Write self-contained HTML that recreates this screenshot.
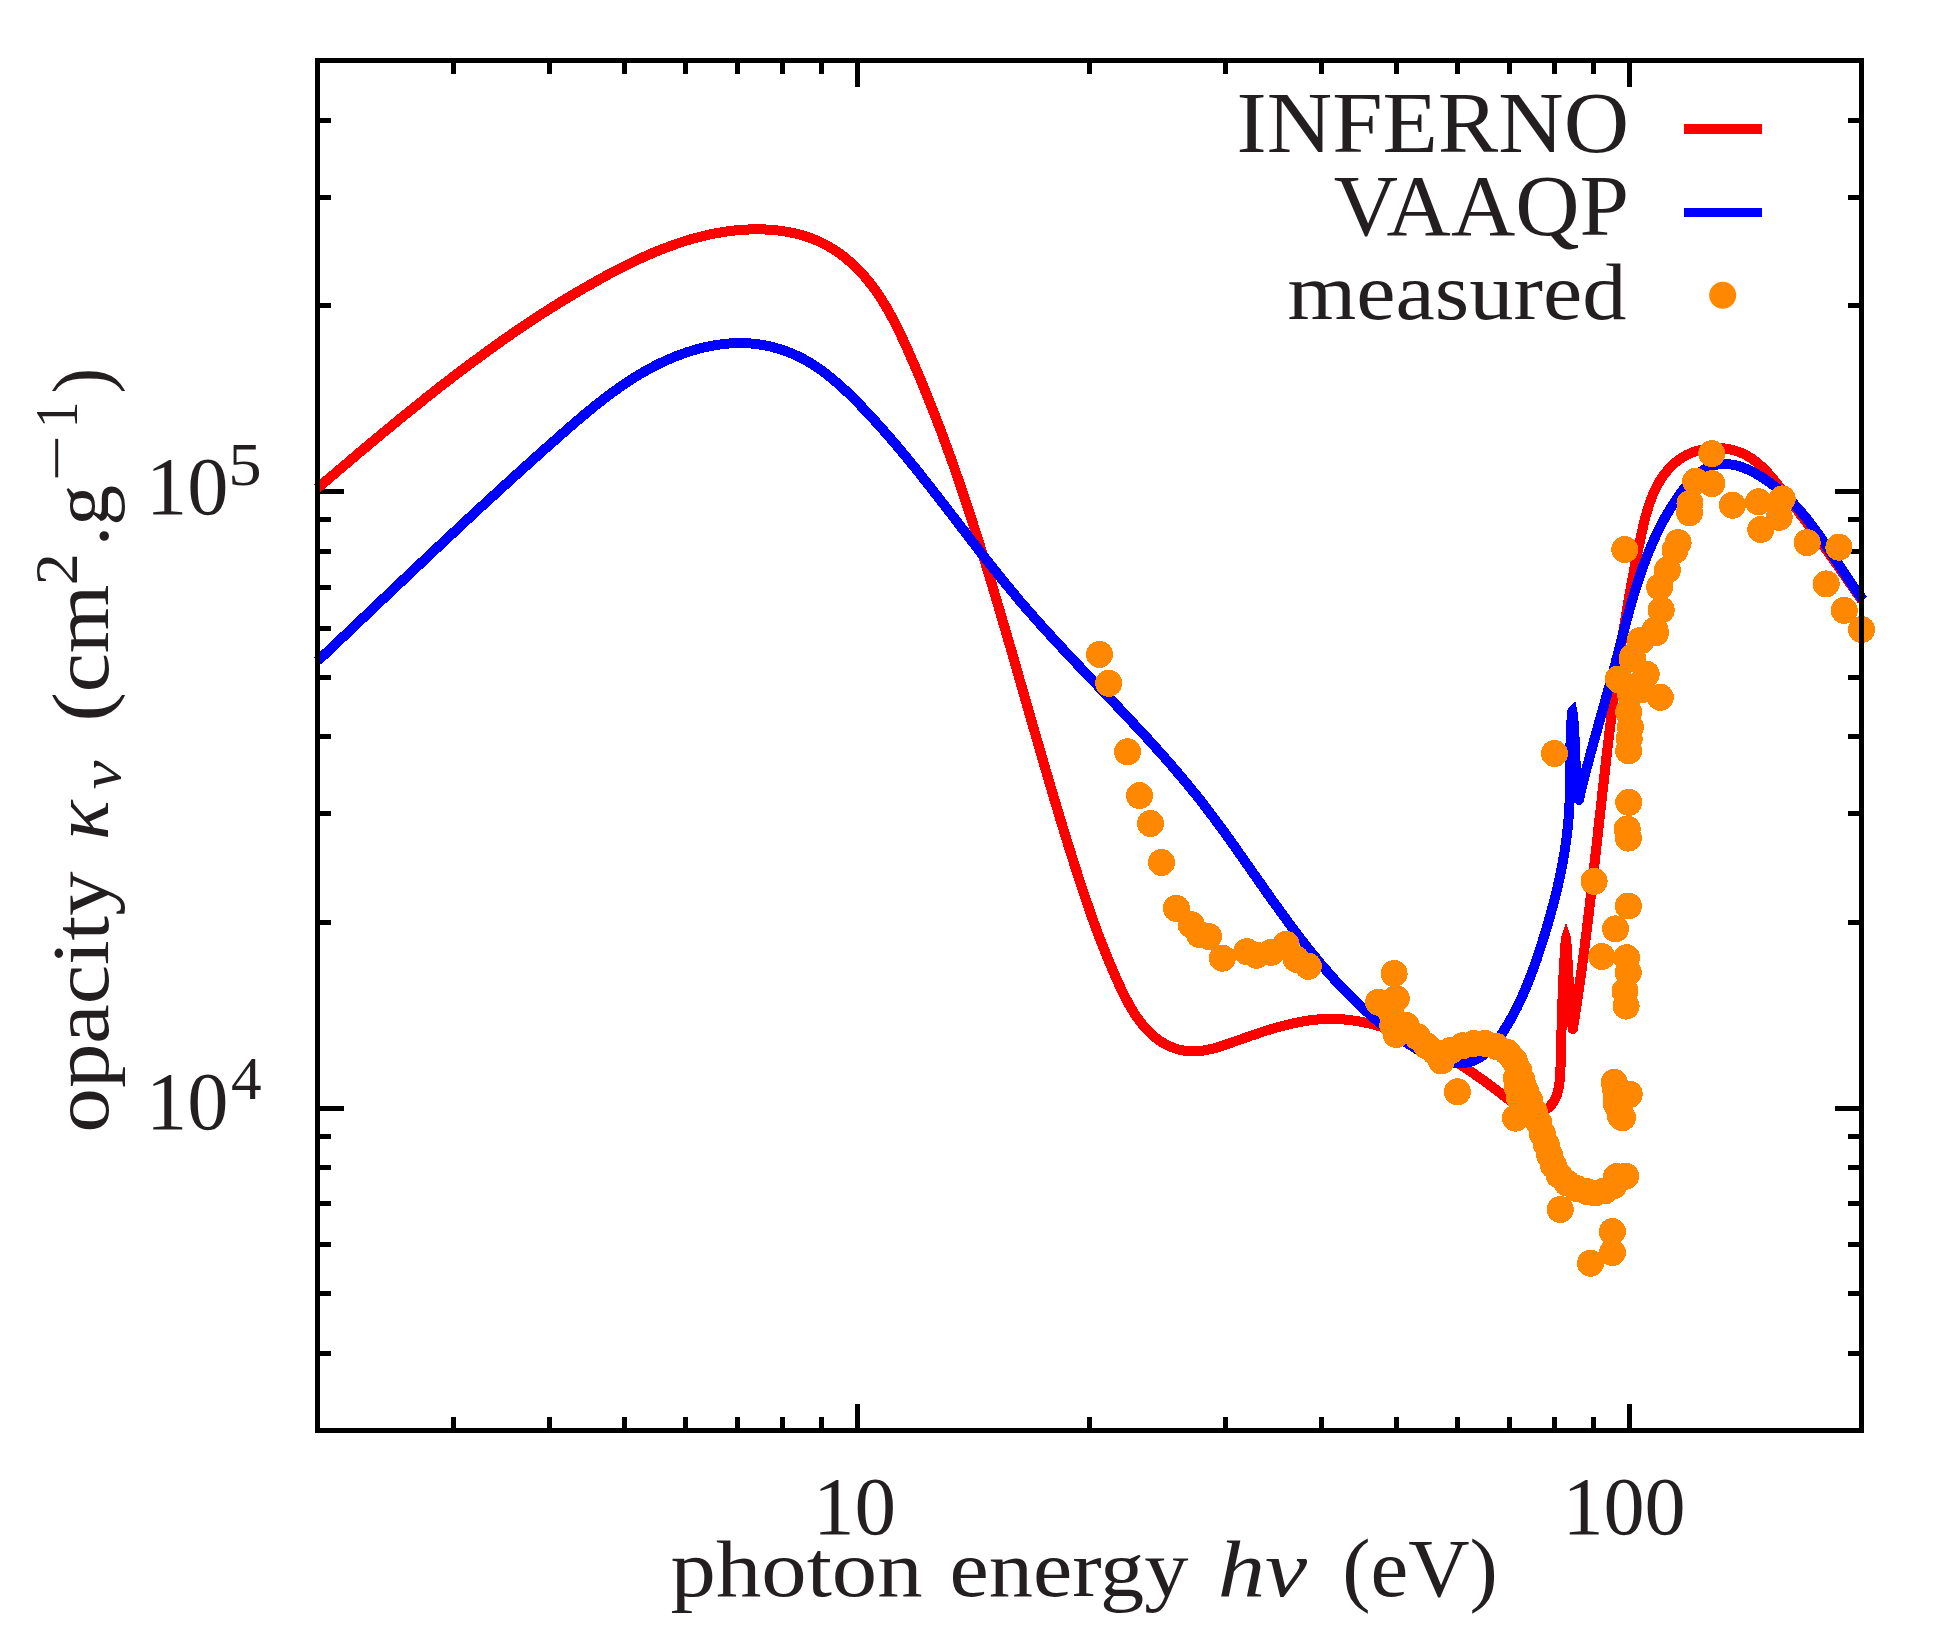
<!DOCTYPE html>
<html lang="en"><head><meta charset="utf-8"><title>opacity</title>
<style>html,body{margin:0;padding:0;background:#fff}svg{display:block}text{font-family:"Liberation Serif",serif;fill:#231f20}.it{font-style:italic}</style></head><body>
<svg width="1958" height="1645" viewBox="0 0 1958 1645">
<rect width="1958" height="1645" fill="#fff"/>
<path d="M453.4 1430.5v-13.5M453.4 60.5v13.5M549.9 1430.5v-13.5M549.9 60.5v13.5M624.7 1430.5v-13.5M624.7 60.5v13.5M685.8 1430.5v-13.5M685.8 60.5v13.5M737.5 1430.5v-13.5M737.5 60.5v13.5M782.3 1430.5v-13.5M782.3 60.5v13.5M821.8 1430.5v-13.5M821.8 60.5v13.5M857.1 1430.5v-26.5M857.1 60.5v26.5M1089.5 1430.5v-13.5M1089.5 60.5v13.5M1225.4 1430.5v-13.5M1225.4 60.5v13.5M1321.9 1430.5v-13.5M1321.9 60.5v13.5M1396.7 1430.5v-13.5M1396.7 60.5v13.5M1457.8 1430.5v-13.5M1457.8 60.5v13.5M1509.5 1430.5v-13.5M1509.5 60.5v13.5M1554.3 1430.5v-13.5M1554.3 60.5v13.5M1593.8 1430.5v-13.5M1593.8 60.5v13.5M1629.1 1430.5v-26.5M1629.1 60.5v26.5M317.5 1353.5h13.5M1861.5 1353.5h-13.5M317.5 1293.7h13.5M1861.5 1293.7h-13.5M317.5 1244.9h13.5M1861.5 1244.9h-13.5M317.5 1203.6h13.5M1861.5 1203.6h-13.5M317.5 1167.8h13.5M1861.5 1167.8h-13.5M317.5 1136.3h13.5M1861.5 1136.3h-13.5M317.5 1108.1h26.5M1861.5 1108.1h-26.5M317.5 922.5h13.5M1861.5 922.5h-13.5M317.5 813.9h13.5M1861.5 813.9h-13.5M317.5 736.9h13.5M1861.5 736.9h-13.5M317.5 677.1h13.5M1861.5 677.1h-13.5M317.5 628.3h13.5M1861.5 628.3h-13.5M317.5 587.0h13.5M1861.5 587.0h-13.5M317.5 551.2h13.5M1861.5 551.2h-13.5M317.5 519.7h13.5M1861.5 519.7h-13.5M317.5 491.5h26.5M1861.5 491.5h-26.5M317.5 305.9h13.5M1861.5 305.9h-13.5M317.5 197.3h13.5M1861.5 197.3h-13.5M317.5 120.3h13.5M1861.5 120.3h-13.5" stroke="#000" stroke-width="5" fill="none" shape-rendering="crispEdges"/>
<g fill="none" stroke-width="10" stroke-linejoin="round" shape-rendering="crispEdges">
<path d="M317.5 488.2 L321.3 484.9 L325.1 481.7 L329.0 478.4 L332.8 475.2 L336.6 471.9 L340.4 468.7 L344.3 465.4 L348.1 462.2 L351.9 458.9 L355.8 455.7 L359.6 452.4 L363.5 449.2 L367.3 446.0 L371.2 442.7 L375.0 439.5 L378.9 436.3 L382.7 433.1 L386.6 429.9 L390.5 426.7 L394.4 423.5 L398.3 420.3 L402.1 417.1 L406.0 414.0 L409.9 410.8 L413.8 407.7 L417.8 404.5 L421.7 401.4 L425.6 398.2 L429.5 395.1 L433.5 392.0 L437.4 388.9 L441.4 385.8 L445.3 382.8 L449.3 379.7 L453.3 376.6 L457.3 373.6 L461.3 370.6 L465.3 367.5 L469.3 364.5 L473.3 361.5 L477.4 358.6 L481.4 355.6 L485.5 352.6 L489.5 349.7 L493.6 346.8 L497.7 343.9 L501.8 341.0 L505.9 338.1 L510.0 335.2 L514.1 332.4 L518.3 329.6 L522.4 326.7 L526.6 323.9 L530.8 321.2 L535.0 318.4 L539.2 315.7 L543.4 312.9 L547.6 310.2 L551.9 307.5 L556.2 304.9 L560.4 302.2 L564.7 299.6 L569.0 297.0 L573.3 294.4 L577.7 291.8 L582.0 289.3 L586.4 286.8 L590.8 284.3 L595.2 281.8 L599.6 279.3 L604.0 276.9 L608.4 274.5 L612.9 272.1 L617.4 269.8 L621.9 267.5 L626.4 265.2 L630.9 263.0 L635.5 260.8 L640.0 258.6 L644.6 256.6 L649.2 254.5 L653.8 252.5 L658.5 250.6 L663.1 248.8 L667.8 247.0 L672.5 245.3 L677.2 243.6 L681.9 242.0 L686.7 240.5 L691.5 239.1 L696.3 237.8 L701.1 236.5 L705.9 235.4 L710.8 234.3 L715.6 233.3 L720.5 232.5 L725.4 231.7 L730.4 231.0 L735.3 230.4 L740.3 230.0 L745.3 229.7 L750.3 229.4 L755.4 229.3 L760.4 229.4 L765.5 229.5 L770.5 229.8 L775.6 230.2 L780.6 230.8 L785.6 231.6 L790.6 232.5 L795.6 233.5 L800.4 234.8 L805.3 236.2 L810.0 237.8 L814.7 239.6 L819.3 241.6 L823.8 243.8 L828.2 246.2 L832.5 248.8 L836.8 251.5 L840.9 254.5 L844.9 257.5 L848.8 260.8 L852.5 264.1 L856.2 267.6 L859.7 271.2 L863.1 274.8 L866.4 278.6 L869.5 282.5 L872.6 286.4 L875.5 290.4 L878.4 294.5 L881.1 298.7 L883.7 302.9 L886.3 307.2 L888.8 311.5 L891.2 315.9 L893.6 320.3 L895.9 324.8 L898.1 329.3 L900.3 333.8 L902.5 338.4 L904.6 343.0 L906.7 347.5 L908.7 352.1 L910.7 356.8 L912.8 361.4 L914.8 366.0 L916.7 370.6 L918.7 375.2 L920.7 379.9 L922.6 384.5 L924.5 389.2 L926.4 393.8 L928.3 398.5 L930.1 403.1 L932.0 407.8 L933.8 412.5 L935.6 417.2 L937.4 421.8 L939.2 426.5 L941.0 431.2 L942.7 435.9 L944.5 440.6 L946.2 445.3 L947.9 450.0 L949.6 454.8 L951.3 459.5 L953.0 464.2 L954.6 468.9 L956.3 473.7 L957.9 478.4 L959.5 483.1 L961.2 487.9 L962.8 492.6 L964.4 497.4 L965.9 502.1 L967.5 506.9 L969.1 511.7 L970.6 516.4 L972.2 521.2 L973.7 526.0 L975.2 530.8 L976.8 535.5 L978.3 540.3 L979.8 545.1 L981.3 549.9 L982.8 554.7 L984.3 559.5 L985.7 564.3 L987.2 569.1 L988.7 573.9 L990.1 578.7 L991.6 583.5 L993.0 588.4 L994.5 593.2 L995.9 598.0 L997.3 602.8 L998.8 607.6 L1000.2 612.5 L1001.6 617.3 L1003.0 622.1 L1004.5 627.0 L1005.9 631.8 L1007.3 636.6 L1008.7 641.5 L1010.1 646.3 L1011.5 651.1 L1012.9 656.0 L1014.3 660.8 L1015.7 665.7 L1017.1 670.5 L1018.4 675.3 L1019.8 680.2 L1021.2 685.0 L1022.6 689.9 L1024.0 694.7 L1025.4 699.5 L1026.8 704.4 L1028.2 709.2 L1029.6 714.1 L1030.9 718.9 L1032.3 723.7 L1033.7 728.6 L1035.1 733.4 L1036.5 738.2 L1037.9 743.1 L1039.3 747.9 L1040.7 752.7 L1042.1 757.5 L1043.5 762.4 L1044.9 767.2 L1046.3 772.0 L1047.7 776.8 L1049.1 781.6 L1050.5 786.4 L1052.0 791.2 L1053.4 796.1 L1054.8 800.9 L1056.3 805.6 L1057.7 810.4 L1059.1 815.2 L1060.6 820.0 L1062.0 824.8 L1063.5 829.6 L1065.0 834.4 L1066.4 839.1 L1067.9 843.9 L1069.4 848.7 L1070.9 853.4 L1072.4 858.2 L1073.9 862.9 L1075.4 867.7 L1076.9 872.4 L1078.4 877.1 L1080.0 881.8 L1081.5 886.6 L1083.1 891.3 L1084.7 896.0 L1086.2 900.7 L1087.9 905.4 L1089.5 910.2 L1091.1 914.9 L1092.8 919.6 L1094.5 924.3 L1096.2 929.0 L1098.0 933.7 L1099.8 938.4 L1101.6 943.1 L1103.5 947.8 L1105.3 952.5 L1107.3 957.3 L1109.2 962.0 L1111.2 966.7 L1113.2 971.4 L1115.3 976.2 L1117.4 980.9 L1119.6 985.6 L1121.8 990.4 L1124.1 995.1 L1126.5 999.7 L1128.9 1004.2 L1131.5 1008.7 L1134.2 1013.1 L1137.0 1017.3 L1139.9 1021.3 L1143.0 1025.2 L1146.2 1028.9 L1149.6 1032.4 L1153.2 1035.7 L1156.9 1038.7 L1160.9 1041.5 L1165.0 1044.0 L1169.4 1046.1 L1173.9 1048.0 L1178.5 1049.5 L1183.2 1050.5 L1188.0 1051.2 L1192.8 1051.5 L1197.6 1051.3 L1202.4 1050.8 L1207.2 1049.9 L1212.1 1048.8 L1216.9 1047.5 L1221.8 1046.0 L1226.6 1044.3 L1231.5 1042.6 L1236.4 1040.9 L1241.3 1039.2 L1246.1 1037.4 L1251.1 1035.7 L1256.0 1034.1 L1260.9 1032.4 L1265.8 1030.8 L1270.7 1029.3 L1275.7 1027.8 L1280.6 1026.5 L1285.5 1025.2 L1290.5 1024.0 L1295.4 1022.9 L1300.3 1021.9 L1305.3 1021.0 L1310.2 1020.3 L1315.1 1019.7 L1320.0 1019.3 L1325.0 1019.0 L1329.9 1018.9 L1334.8 1019.0 L1339.7 1019.2 L1344.6 1019.5 L1349.4 1020.0 L1354.3 1020.7 L1359.2 1021.5 L1364.0 1022.4 L1368.8 1023.4 L1373.6 1024.6 L1378.4 1025.9 L1383.2 1027.2 L1388.0 1028.8 L1392.7 1030.4 L1397.4 1032.1 L1402.1 1033.9 L1406.8 1035.8 L1411.4 1037.8 L1416.1 1039.9 L1420.7 1042.1 L1425.2 1044.4 L1429.8 1046.7 L1434.3 1049.1 L1438.8 1051.6 L1443.2 1054.1 L1447.6 1056.7 L1452.0 1059.4 L1456.4 1062.1 L1460.7 1064.9 L1465.0 1067.7 L1469.2 1070.5 L1473.4 1073.4 L1477.6 1076.3 L1481.7 1079.2 L1485.8 1082.1 L1489.8 1085.1 L1493.8 1088.1 L1497.8 1091.1 L1501.7 1094.1 L1505.5 1097.1 L1509.3 1100.1 L1513.1 1103.1 L1517.1 1107.8 L1521.7 1111.0 L1526.6 1112.9 L1531.7 1113.5 L1536.8 1113.1 L1541.6 1111.7 L1546.0 1109.5 L1549.8 1106.5 L1552.9 1102.9 L1555.3 1098.8 L1557.1 1094.3 L1558.4 1089.4 L1559.3 1084.2 L1559.9 1078.8 L1560.3 1073.3 L1560.5 1067.8 L1560.7 1062.2 L1560.8 1056.8 L1561.0 1051.3 L1561.1 1046.0 L1561.3 1040.7 L1561.4 1035.4 L1561.5 1030.2 L1561.7 1025.0 L1561.8 1019.8 L1562.0 1014.7 L1562.1 1009.5 L1562.3 1004.4 L1562.5 999.3 L1562.7 994.2 L1562.9 989.1 L1563.1 984.0 L1563.3 978.9 L1563.6 973.8 L1563.8 968.6 L1564.2 963.5 L1564.5 958.2 L1564.8 953.0 L1565.2 947.7 L1565.6 942.4 L1566.1 937.0" stroke="#f00"/>
<path d="M1566.1 937.0 L1566.4 942.4 L1566.7 947.8 L1567.1 953.2 L1567.4 958.7 L1567.7 964.1 L1568.0 969.5 L1568.4 974.9 L1568.7 980.3 L1569.1 985.8 L1569.4 991.2 L1569.8 996.6 L1570.2 1002.0 L1570.7 1007.4 L1571.2 1012.8 L1571.7 1018.2 L1572.2 1023.6 L1572.8 1029.0 L1573.6 1024.0 L1574.4 1019.0 L1575.2 1014.0 L1575.9 1009.0 L1576.7 1004.0 L1577.4 999.0 L1578.2 993.9 L1578.9 988.9 L1579.6 983.9 L1580.3 978.9 L1581.0 973.9 L1581.7 968.9 L1582.4 963.9 L1583.0 958.9 L1583.7 953.9 L1584.4 948.9 L1585.0 943.9 L1585.6 938.8 L1586.3 933.8 L1586.9 928.8 L1587.5 923.8 L1588.1 918.8 L1588.7 913.8 L1589.3 908.8 L1589.9 903.8 L1590.5 898.8 L1591.1 893.7 L1591.7 888.7 L1592.3 883.7 L1592.8 878.7 L1593.4 873.7 L1594.0 868.7 L1594.5 863.7 L1595.1 858.7 L1595.6 853.7 L1596.2 848.6 L1596.8 843.6 L1597.3 838.6 L1597.9 833.6 L1598.4 828.6 L1599.0 823.6 L1599.5 818.6 L1600.1 813.6 L1600.7 808.6 L1601.2 803.5 L1601.8 798.5 L1602.3 793.5 L1602.9 788.5 L1603.5 783.5 L1604.0 778.5 L1604.6 773.5 L1605.2 768.5 L1605.7 763.5 L1606.3 758.4 L1606.9 753.4 L1607.5 748.4 L1608.1 743.4 L1608.7 738.4 L1609.3 733.4 L1609.9 728.4 L1610.5 723.4 L1611.2 718.4 L1611.8 713.4 L1612.4 708.3 L1613.1 703.3 L1613.7 698.3 L1614.4 693.3 L1615.1 688.3 L1615.7 683.3 L1616.4 678.3 L1617.1 673.3 L1617.8 668.3 L1618.5 663.3 L1619.3 658.3 L1620.0 653.2 L1620.7 648.2 L1621.5 643.2 L1622.3 638.2 L1623.1 633.2 L1623.9 628.2 L1624.7 623.2 L1625.5 618.2 L1626.3 613.2 L1627.2 608.2 L1628.0 603.2 L1628.9 598.2 L1629.8 593.2 L1630.7 588.2 L1631.6 583.2 L1632.5 578.2 L1633.5 573.2 L1634.4 568.2 L1635.4 563.2 L1636.4 558.1 L1637.4 553.1 L1638.4 548.1 L1639.5 543.1 L1640.6 538.1 L1641.6 533.1 L1642.8 528.1 L1643.9 523.2 L1645.1 518.2 L1646.5 513.3 L1647.9 508.5 L1649.4 503.7 L1651.1 499.1 L1652.9 494.5 L1654.9 490.0 L1657.1 485.6 L1659.6 481.3 L1662.2 477.2 L1665.1 473.3 L1668.2 469.5 L1671.6 466.0 L1675.2 462.6 L1679.1 459.6 L1683.3 456.9 L1687.6 454.5 L1692.3 452.5 L1697.1 450.9 L1702.0 449.6 L1707.1 448.7 L1712.3 448.2 L1717.4 448.0 L1722.6 448.3 L1727.6 448.9 L1732.6 449.9 L1737.4 451.4 L1742.0 453.2 L1746.4 455.3 L1750.6 457.8 L1754.6 460.6 L1758.4 463.7 L1762.1 467.0 L1765.7 470.5 L1769.1 474.3 L1772.4 478.1 L1775.7 482.0 L1778.8 486.1 L1782.0 490.1 L1785.1 494.1 L1788.2 498.2 L1791.3 502.2 L1794.4 506.3 L1797.4 510.3 L1800.4 514.4 L1803.5 518.4 L1806.5 522.5 L1809.5 526.5 L1812.4 530.6 L1815.4 534.7 L1818.4 538.7 L1821.3 542.8 L1824.2 546.9 L1827.2 550.9 L1830.1 555.0 L1833.0 559.1 L1835.9 563.2 L1838.8 567.3 L1841.7 571.4 L1844.6 575.5 L1847.5 579.7 L1850.4 583.8 L1853.3 588.0 L1856.2 592.1 L1859.1 596.3 L1862.0 600.5" stroke="#f00"/>
<path d="M1561.1 937.5 L1565.5 924.0 L1566.5 924.0 L1571.1 937.5Z" fill="#f00"/>
<path d="M317.5 661.1 L321.2 657.6 L324.9 654.1 L328.5 650.7 L332.2 647.2 L335.9 643.7 L339.5 640.2 L343.2 636.8 L346.9 633.3 L350.5 629.8 L354.2 626.4 L357.8 622.9 L361.5 619.4 L365.1 616.0 L368.8 612.5 L372.4 609.1 L376.0 605.6 L379.7 602.1 L383.3 598.7 L387.0 595.2 L390.6 591.8 L394.2 588.4 L397.9 584.9 L401.5 581.5 L405.1 578.0 L408.8 574.6 L412.4 571.1 L416.1 567.7 L419.7 564.3 L423.3 560.8 L427.0 557.4 L430.6 554.0 L434.3 550.6 L437.9 547.1 L441.5 543.7 L445.2 540.3 L448.8 536.9 L452.5 533.5 L456.1 530.1 L459.8 526.7 L463.5 523.2 L467.1 519.8 L470.8 516.4 L474.5 513.0 L478.1 509.6 L481.8 506.2 L485.5 502.9 L489.2 499.5 L492.9 496.1 L496.6 492.7 L500.2 489.3 L504.0 485.9 L507.7 482.5 L511.4 479.2 L515.1 475.8 L518.8 472.4 L522.5 469.1 L526.3 465.7 L530.0 462.3 L533.8 459.0 L537.5 455.6 L541.3 452.3 L545.0 448.9 L548.8 445.6 L552.6 442.2 L556.4 438.9 L560.1 435.5 L564.0 432.2 L567.8 428.9 L571.6 425.5 L575.4 422.2 L579.3 418.9 L583.1 415.7 L587.0 412.4 L590.9 409.2 L594.8 406.0 L598.8 402.9 L602.8 399.8 L606.8 396.7 L610.8 393.7 L614.9 390.7 L619.0 387.8 L623.1 384.9 L627.2 382.1 L631.4 379.4 L635.7 376.7 L640.0 374.1 L644.3 371.6 L648.7 369.2 L653.1 366.8 L657.5 364.5 L662.1 362.3 L666.6 360.2 L671.3 358.2 L675.9 356.3 L680.7 354.5 L685.4 352.8 L690.3 351.2 L695.1 349.8 L700.0 348.4 L705.0 347.2 L709.9 346.2 L714.9 345.3 L719.9 344.5 L724.9 343.9 L729.9 343.4 L734.9 343.2 L739.8 343.1 L744.8 343.1 L749.8 343.4 L754.7 343.9 L759.6 344.5 L764.5 345.3 L769.3 346.3 L774.1 347.5 L778.8 348.8 L783.5 350.3 L788.1 352.0 L792.7 353.9 L797.2 355.9 L801.6 358.0 L806.0 360.4 L810.2 362.9 L814.4 365.5 L818.5 368.3 L822.6 371.2 L826.6 374.2 L830.5 377.3 L834.3 380.5 L838.1 383.8 L841.9 387.2 L845.6 390.6 L849.3 394.1 L852.9 397.7 L856.5 401.3 L860.0 404.9 L863.5 408.6 L867.0 412.3 L870.5 416.0 L873.9 419.7 L877.3 423.4 L880.7 427.2 L884.0 431.0 L887.4 434.8 L890.7 438.6 L894.0 442.4 L897.2 446.3 L900.5 450.1 L903.7 454.0 L906.9 457.9 L910.1 461.8 L913.3 465.7 L916.4 469.6 L919.6 473.5 L922.7 477.5 L925.8 481.4 L928.9 485.4 L932.0 489.3 L935.1 493.3 L938.2 497.3 L941.3 501.3 L944.4 505.2 L947.4 509.2 L950.5 513.2 L953.6 517.2 L956.6 521.2 L959.7 525.2 L962.7 529.1 L965.8 533.1 L968.9 537.1 L971.9 541.1 L975.0 545.1 L978.1 549.0 L981.1 553.0 L984.2 556.9 L987.3 560.9 L990.4 564.8 L993.5 568.7 L996.7 572.7 L999.8 576.6 L1002.9 580.5 L1006.1 584.4 L1009.3 588.2 L1012.5 592.1 L1015.7 595.9 L1018.9 599.8 L1022.1 603.6 L1025.4 607.4 L1028.7 611.1 L1032.0 614.9 L1035.3 618.7 L1038.6 622.4 L1042.0 626.1 L1045.3 629.8 L1048.7 633.6 L1052.1 637.2 L1055.5 640.9 L1058.9 644.6 L1062.3 648.3 L1065.7 651.9 L1069.1 655.6 L1072.6 659.3 L1076.0 662.9 L1079.5 666.5 L1082.9 670.2 L1086.4 673.8 L1089.8 677.4 L1093.3 681.1 L1096.8 684.7 L1100.2 688.3 L1103.7 692.0 L1107.2 695.6 L1110.6 699.2 L1114.1 702.9 L1117.5 706.5 L1121.0 710.1 L1124.4 713.8 L1127.9 717.5 L1131.3 721.1 L1134.7 724.8 L1138.2 728.5 L1141.6 732.1 L1145.0 735.8 L1148.4 739.5 L1151.8 743.2 L1155.1 747.0 L1158.5 750.7 L1161.8 754.4 L1165.2 758.2 L1168.5 762.0 L1171.8 765.8 L1175.0 769.6 L1178.3 773.4 L1181.6 777.2 L1184.8 781.1 L1188.0 785.0 L1191.2 788.9 L1194.3 792.8 L1197.5 796.7 L1200.6 800.6 L1203.7 804.6 L1206.8 808.6 L1209.8 812.6 L1212.9 816.7 L1215.9 820.7 L1218.9 824.8 L1221.9 828.8 L1224.8 832.9 L1227.8 837.0 L1230.7 841.1 L1233.7 845.3 L1236.6 849.4 L1239.5 853.5 L1242.4 857.6 L1245.3 861.8 L1248.2 865.9 L1251.1 870.1 L1254.0 874.2 L1256.9 878.4 L1259.8 882.5 L1262.7 886.6 L1265.6 890.8 L1268.5 894.9 L1271.4 899.0 L1274.4 903.1 L1277.3 907.2 L1280.2 911.3 L1283.2 915.4 L1286.2 919.4 L1289.1 923.5 L1292.1 927.5 L1295.1 931.5 L1298.2 935.5 L1301.2 939.5 L1304.3 943.5 L1307.4 947.4 L1310.5 951.3 L1313.6 955.2 L1316.8 959.0 L1319.9 962.9 L1323.1 966.7 L1326.4 970.4 L1329.7 974.2 L1333.0 977.9 L1336.3 981.6 L1339.7 985.2 L1343.1 988.8 L1346.5 992.4 L1350.0 995.9 L1353.5 999.4 L1357.1 1002.8 L1360.7 1006.3 L1364.3 1009.6 L1368.0 1012.9 L1371.7 1016.2 L1375.5 1019.4 L1379.3 1022.6 L1383.2 1025.7 L1387.2 1028.8 L1391.1 1031.8 L1395.2 1034.8 L1399.3 1037.7 L1403.4 1040.6 L1407.6 1043.4 L1411.9 1046.1 L1416.2 1048.8 L1420.6 1051.4 L1425.0 1054.0 L1429.3 1056.0 L1434.0 1057.9 L1439.1 1059.6 L1444.3 1061.1 L1449.7 1062.2 L1455.0 1062.9 L1460.3 1063.1 L1465.3 1062.8 L1470.1 1061.8 L1474.6 1060.2 L1478.8 1058.1 L1482.7 1055.5 L1486.4 1052.4 L1489.9 1049.1 L1493.2 1045.4 L1496.3 1041.5 L1499.3 1037.4 L1502.2 1033.2 L1504.9 1028.9 L1507.6 1024.6 L1510.1 1020.2 L1512.6 1015.8 L1515.0 1011.3 L1517.3 1006.8 L1519.5 1002.2 L1521.6 997.6 L1523.7 993.0 L1525.7 988.3 L1527.6 983.6 L1529.5 978.9 L1531.3 974.1 L1533.1 969.4 L1534.8 964.6 L1536.5 959.8 L1538.1 954.9 L1539.7 950.1 L1541.3 945.3 L1542.8 940.4 L1544.3 935.5 L1545.8 930.7 L1547.3 925.8 L1548.7 921.0 L1550.1 916.1 L1551.4 911.2 L1552.7 906.3 L1554.0 901.4 L1555.3 896.5 L1556.5 891.6 L1557.6 886.7 L1558.7 881.8 L1559.8 876.9 L1560.8 872.0 L1561.8 867.0 L1562.7 862.1 L1563.6 857.1 L1564.5 852.1 L1565.2 847.2 L1565.9 842.2 L1566.6 837.2 L1567.2 832.2 L1567.8 827.1 L1568.2 822.1 L1568.7 817.1 L1569.0 812.0 L1569.3 806.9 L1569.6 801.9 L1569.7 796.8 L1569.9 791.7 L1570.0 786.6 L1570.1 781.5 L1570.1 776.4 L1570.2 771.3 L1570.2 766.2 L1570.2 761.1 L1570.3 756.0 L1570.4 750.9 L1570.4 745.8 L1570.6 740.7 L1570.7 735.6 L1570.9 730.6 L1571.2 725.5 L1571.5 720.5 L1571.8 715.5 L1572.3 710.5" stroke="#00f"/>
<path d="M1572.3 710.5 L1573.0 716.1 L1573.5 721.6 L1574.0 727.2 L1574.3 732.8 L1574.6 738.4 L1574.9 744.0 L1575.1 749.6 L1575.3 755.2 L1575.5 760.8 L1575.8 766.4 L1576.1 772.0 L1576.4 777.6 L1576.9 783.2 L1577.4 788.8 L1578.1 794.3 L1578.9 799.9 L1580.0 794.9 L1581.2 790.0 L1582.4 785.1 L1583.6 780.1 L1584.9 775.2 L1586.1 770.3 L1587.4 765.4 L1588.7 760.6 L1590.0 755.7 L1591.3 750.9 L1592.6 746.0 L1593.9 741.2 L1595.3 736.3 L1596.6 731.5 L1598.0 726.6 L1599.3 721.8 L1600.7 717.0 L1602.1 712.1 L1603.4 707.3 L1604.8 702.5 L1606.1 697.6 L1607.5 692.8 L1608.8 687.9 L1610.1 683.1 L1611.5 678.2 L1612.8 673.4 L1614.1 668.5 L1615.4 663.6 L1616.6 658.7 L1617.9 653.8 L1619.2 648.9 L1620.4 644.0 L1621.7 639.0 L1623.0 634.1 L1624.2 629.2 L1625.5 624.3 L1626.9 619.4 L1628.2 614.5 L1629.5 609.6 L1630.9 604.7 L1632.3 599.8 L1633.7 595.0 L1635.2 590.1 L1636.7 585.3 L1638.3 580.5 L1639.9 575.7 L1641.5 570.9 L1643.2 566.1 L1645.0 561.4 L1646.8 556.7 L1648.7 552.0 L1650.6 547.3 L1652.6 542.7 L1654.7 538.1 L1656.8 533.5 L1659.0 529.0 L1661.3 524.5 L1663.7 520.0 L1666.2 515.6 L1668.8 511.2 L1671.4 506.9 L1674.2 502.6 L1677.1 498.4 L1680.0 494.2 L1683.1 490.0 L1686.3 486.0 L1689.6 482.1 L1693.0 478.4 L1696.7 475.0 L1700.4 472.0 L1704.4 469.4 L1708.5 467.2 L1712.9 465.6 L1717.4 464.5 L1722.1 464.0 L1726.9 464.0 L1731.8 464.6 L1736.7 465.6 L1741.5 467.0 L1746.4 468.9 L1751.1 471.1 L1755.8 473.6 L1760.4 476.3 L1764.8 479.1 L1769.1 482.1 L1773.3 485.1 L1777.3 488.3 L1781.2 491.6 L1784.9 495.0 L1788.6 498.5 L1792.1 502.0 L1795.6 505.7 L1798.9 509.4 L1802.2 513.2 L1805.4 517.0 L1808.5 520.9 L1811.5 524.9 L1814.5 528.9 L1817.5 533.0 L1820.3 537.1 L1823.2 541.2 L1826.0 545.4 L1828.8 549.6 L1831.6 553.8 L1834.4 558.0 L1837.1 562.2 L1839.9 566.4 L1842.7 570.7 L1845.5 574.9 L1848.3 579.1 L1851.2 583.3 L1854.0 587.4 L1857.0 591.6 L1860.0 595.6 L1863.0 599.7" stroke="#00f"/>
<path d="M1567.3 711.5 L1567.8 708.3 L1574.2 701.9 L1576.0 701.9 L1576.9 711.5Z" fill="#00f"/>
</g>
<g fill="#ff8800" shape-rendering="crispEdges">
<circle cx="1099.5" cy="654.4" r="13.5"/>
<circle cx="1108.7" cy="683.3" r="13.5"/>
<circle cx="1127.5" cy="751.8" r="13.5"/>
<circle cx="1139.5" cy="795.6" r="13.5"/>
<circle cx="1150.5" cy="823.5" r="13.5"/>
<circle cx="1161.5" cy="862.5" r="13.5"/>
<circle cx="1176.4" cy="908.4" r="13.5"/>
<circle cx="1191.1" cy="924.6" r="13.5"/>
<circle cx="1199.4" cy="934.5" r="13.5"/>
<circle cx="1208.5" cy="936.4" r="13.5"/>
<circle cx="1222.3" cy="958.2" r="13.5"/>
<circle cx="1246.8" cy="951.7" r="13.5"/>
<circle cx="1256.6" cy="955.3" r="13.5"/>
<circle cx="1271.2" cy="952.4" r="13.5"/>
<circle cx="1286.1" cy="944.3" r="13.5"/>
<circle cx="1296.3" cy="959.3" r="13.5"/>
<circle cx="1308.3" cy="966.3" r="13.5"/>
<circle cx="1378.5" cy="1002.3" r="13.5"/>
<circle cx="1394.1" cy="973.5" r="13.5"/>
<circle cx="1396.3" cy="998.5" r="13.5"/>
<circle cx="1392.7" cy="1025.5" r="13.5"/>
<circle cx="1396.1" cy="1034.5" r="13.5"/>
<circle cx="1406.2" cy="1025.5" r="13.5"/>
<circle cx="1417.5" cy="1036.7" r="13.5"/>
<circle cx="1426.5" cy="1045.7" r="13.5"/>
<circle cx="1435.5" cy="1052.5" r="13.5"/>
<circle cx="1441.3" cy="1060.9" r="13.5"/>
<circle cx="1451.2" cy="1050.2" r="13.5"/>
<circle cx="1462.5" cy="1045.7" r="13.5"/>
<circle cx="1473.7" cy="1043.5" r="13.5"/>
<circle cx="1485.0" cy="1043.5" r="13.5"/>
<circle cx="1496.2" cy="1046.3" r="13.5"/>
<circle cx="1507.5" cy="1052.5" r="13.5"/>
<circle cx="1514.2" cy="1060.3" r="13.5"/>
<circle cx="1518.7" cy="1070.5" r="13.5"/>
<circle cx="1522.1" cy="1080.6" r="13.5"/>
<circle cx="1525.5" cy="1090.7" r="13.5"/>
<circle cx="1530.0" cy="1100.8" r="13.5"/>
<circle cx="1534.5" cy="1112.1" r="13.5"/>
<circle cx="1457.4" cy="1091.8" r="13.5"/>
<circle cx="1515.5" cy="1118.1" r="13.5"/>
<circle cx="1391.0" cy="1012.0" r="13.5"/>
<circle cx="1516.5" cy="1078.0" r="13.5"/>
<circle cx="1517.5" cy="1088.0" r="13.5"/>
<circle cx="1519.5" cy="1098.0" r="13.5"/>
<circle cx="1521.5" cy="1088.0" r="13.5"/>
<circle cx="1526.8" cy="1098.7" r="13.5"/>
<circle cx="1533.5" cy="1110.8" r="13.5"/>
<circle cx="1538.9" cy="1122.8" r="13.5"/>
<circle cx="1542.2" cy="1133.5" r="13.5"/>
<circle cx="1546.2" cy="1144.2" r="13.5"/>
<circle cx="1549.6" cy="1154.9" r="13.5"/>
<circle cx="1553.6" cy="1165.6" r="13.5"/>
<circle cx="1558.9" cy="1175.0" r="13.5"/>
<circle cx="1567.0" cy="1183.0" r="13.5"/>
<circle cx="1576.3" cy="1188.4" r="13.5"/>
<circle cx="1587.0" cy="1191.7" r="13.5"/>
<circle cx="1595.0" cy="1193.0" r="13.5"/>
<circle cx="1604.4" cy="1191.0" r="13.5"/>
<circle cx="1613.8" cy="1185.7" r="13.5"/>
<circle cx="1619.1" cy="1179.0" r="13.5"/>
<circle cx="1625.6" cy="1176.3" r="13.5"/>
<circle cx="1616.5" cy="1176.6" r="13.5"/>
<circle cx="1560.3" cy="1209.5" r="13.5"/>
<circle cx="1612.4" cy="1231.6" r="13.5"/>
<circle cx="1612.4" cy="1252.6" r="13.5"/>
<circle cx="1590.5" cy="1263.3" r="13.5"/>
<circle cx="1629.2" cy="1094.0" r="13.5"/>
<circle cx="1615.1" cy="1088.0" r="13.5"/>
<circle cx="1620.5" cy="1116.1" r="13.5"/>
<circle cx="1616.5" cy="1104.0" r="13.5"/>
<circle cx="1594.1" cy="881.3" r="13.5"/>
<circle cx="1628.3" cy="906.0" r="13.5"/>
<circle cx="1615.5" cy="928.9" r="13.5"/>
<circle cx="1601.7" cy="956.5" r="13.5"/>
<circle cx="1626.6" cy="957.7" r="13.5"/>
<circle cx="1628.3" cy="972.4" r="13.5"/>
<circle cx="1625.0" cy="991.3" r="13.5"/>
<circle cx="1626.1" cy="1006.1" r="13.5"/>
<circle cx="1614.3" cy="1082.4" r="13.5"/>
<circle cx="1629.1" cy="1094.7" r="13.5"/>
<circle cx="1616.0" cy="1096.4" r="13.5"/>
<circle cx="1619.2" cy="1109.5" r="13.5"/>
<circle cx="1622.5" cy="1117.7" r="13.5"/>
<circle cx="1554.5" cy="753.5" r="13.5"/>
<circle cx="1628.7" cy="802.4" r="13.5"/>
<circle cx="1627.2" cy="829.0" r="13.5"/>
<circle cx="1628.3" cy="838.1" r="13.5"/>
<circle cx="1628.7" cy="750.8" r="13.5"/>
<circle cx="1630.3" cy="727.2" r="13.5"/>
<circle cx="1628.7" cy="712.0" r="13.5"/>
<circle cx="1630.5" cy="694.5" r="13.5"/>
<circle cx="1629.2" cy="738.6" r="13.5"/>
<circle cx="1642.5" cy="689.5" r="13.5"/>
<circle cx="1619.6" cy="680.1" r="13.5"/>
<circle cx="1646.2" cy="674.1" r="13.5"/>
<circle cx="1660.3" cy="697.3" r="13.5"/>
<circle cx="1632.5" cy="657.3" r="13.5"/>
<circle cx="1640.1" cy="640.6" r="13.5"/>
<circle cx="1655.3" cy="633.0" r="13.5"/>
<circle cx="1711.8" cy="453.7" r="13.5"/>
<circle cx="1695.7" cy="481.3" r="13.5"/>
<circle cx="1711.8" cy="483.6" r="13.5"/>
<circle cx="1690.0" cy="503.5" r="13.5"/>
<circle cx="1689.5" cy="512.7" r="13.5"/>
<circle cx="1732.4" cy="505.3" r="13.5"/>
<circle cx="1758.5" cy="501.7" r="13.5"/>
<circle cx="1782.2" cy="498.9" r="13.5"/>
<circle cx="1779.2" cy="517.3" r="13.5"/>
<circle cx="1760.8" cy="529.5" r="13.5"/>
<circle cx="1807.2" cy="542.6" r="13.5"/>
<circle cx="1838.9" cy="547.2" r="13.5"/>
<circle cx="1826.2" cy="583.9" r="13.5"/>
<circle cx="1844.3" cy="610.4" r="13.5"/>
<circle cx="1861.6" cy="629.6" r="13.5"/>
<circle cx="1624.7" cy="549.5" r="13.5"/>
<circle cx="1678.1" cy="542.6" r="13.5"/>
<circle cx="1675.0" cy="550.2" r="13.5"/>
<circle cx="1667.3" cy="570.1" r="13.5"/>
<circle cx="1659.7" cy="587.0" r="13.5"/>
<circle cx="1661.2" cy="610.0" r="13.5"/>
<circle cx="1655.1" cy="629.9" r="13.5"/>
<circle cx="1641.3" cy="640.6" r="13.5"/>
<circle cx="1632.1" cy="659.0" r="13.5"/>
<circle cx="1645.9" cy="674.3" r="13.5"/>
<circle cx="1618.3" cy="679.0" r="13.5"/>
</g>
<path d="M1684 129h78" stroke="#f00" stroke-width="10"/>
<path d="M1684 212.5h78" stroke="#00f" stroke-width="9"/>
<circle cx="1722.7" cy="295.3" r="13.5" fill="#ff8800"/>
<rect x="317.5" y="60.5" width="1544.0" height="1370.0" fill="none" stroke="#000" stroke-width="5"/>
<g>
<text x="1236.6" y="151.7" font-size="86.5" textLength="392.5" lengthAdjust="spacingAndGlyphs">INFERNO</text>
<text x="1333.8" y="235.1" font-size="86.5" textLength="295.2" lengthAdjust="spacingAndGlyphs">VAAQP</text>
<text x="1287.5" y="318.7" font-size="80.5" textLength="339.0" lengthAdjust="spacingAndGlyphs">measured</text>
<text x="812.9" y="1533.7" font-size="82.4" textLength="83.1" lengthAdjust="spacingAndGlyphs">10</text>
<text x="1562.4" y="1533.7" font-size="82.4" textLength="123.3" lengthAdjust="spacingAndGlyphs">100</text>
<text x="146.0" y="514.0" font-size="82.4" textLength="82.4" lengthAdjust="spacingAndGlyphs">10</text>
<text x="228.3" y="484.5" font-size="60.5" textLength="33.4" lengthAdjust="spacingAndGlyphs">5</text>
<text x="146.0" y="1129.0" font-size="82.4" textLength="82.4" lengthAdjust="spacingAndGlyphs">10</text>
<text x="230.9" y="1099.0" font-size="60.5" textLength="30.6" lengthAdjust="spacingAndGlyphs">4</text>
<text x="670.6" y="1596.3" font-size="80.5" textLength="252.0" lengthAdjust="spacingAndGlyphs">photon</text>
<text x="949.5" y="1596.3" font-size="80.5" textLength="239.0" lengthAdjust="spacingAndGlyphs">energy</text>
<text x="1217.7" y="1596.3" font-size="80.5" font-style="italic" textLength="89.5" lengthAdjust="spacingAndGlyphs">hν</text>
<text x="1342.3" y="1596.3" font-size="82" textLength="155.6" lengthAdjust="spacingAndGlyphs">(eV)</text>
<text transform="translate(107.5,1129.1) rotate(-90)" x="-3.3" y="0" font-size="80.5" textLength="261.0" lengthAdjust="spacingAndGlyphs">opacity</text>
<text transform="translate(107.5,1129.1) rotate(-90)" x="289.0" y="0" font-size="80.5" font-style="italic" textLength="39.7" lengthAdjust="spacingAndGlyphs">κ</text>
<text transform="translate(119.5,1129.1) rotate(-90)" x="339.5" y="0" font-size="58" font-style="italic" textLength="28.9" lengthAdjust="spacingAndGlyphs">ν</text>
<text transform="translate(107.5,1129.1) rotate(-90)" x="407.5" y="0" font-size="80.5" textLength="137.0" lengthAdjust="spacingAndGlyphs">(cm</text>
<text transform="translate(77.2,1129.1) rotate(-90)" x="543.9" y="0" font-size="60.5" textLength="32.1" lengthAdjust="spacingAndGlyphs">2</text>
<text transform="translate(107.5,1129.1) rotate(-90)" x="582.8" y="0" font-size="80.5" textLength="61.4" lengthAdjust="spacingAndGlyphs">.g</text>
<text transform="translate(77.2,1129.1) rotate(-90)" x="647.6" y="0" font-size="60.5" textLength="46.7" lengthAdjust="spacingAndGlyphs">−</text>
<text transform="translate(77.2,1129.1) rotate(-90)" x="701.0" y="0" font-size="60.5" textLength="26.3" lengthAdjust="spacingAndGlyphs">1</text>
<text transform="translate(107.5,1129.1) rotate(-90)" x="735.6" y="0" font-size="80.5" textLength="25.6" lengthAdjust="spacingAndGlyphs">)</text>
</g>
</svg></body></html>
